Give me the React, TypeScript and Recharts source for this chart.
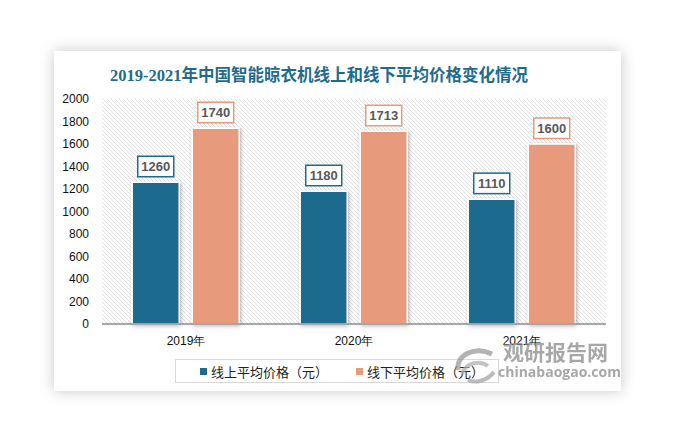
import { Bar, BarChart, CartesianGrid, LabelList, XAxis, YAxis } from 'recharts'

const years = ['2019年', '2020年', '2021年']
const onlinePrice = [1260, 1180, 1110]
const offlinePrice = [1740, 1713, 1600]
const yTicks = [0, 200, 400, 600, 800, 1000, 1200, 1400, 1600, 1800, 2000]

const seriesNames = ['线上平均价格（元）', '线下平均价格（元）']
const BLUE = '#1d6b8e'
const ORANGE = '#e89b7b'

const data = years.map((year, i) => ({
  year,
  online: onlinePrice[i],
  offline: offlinePrice[i],
}))

const makeLabel = (color: string) => (props: any) => {
  const { x, y, width, value } = props
  const cx = x + width / 2
  return (
    <g>
      <rect x={cx - 18} y={y - 26} width={36} height={20.5} fill='#fff' stroke={color} strokeWidth={1.5} />
      <text
        x={cx}
        y={y - 15.5}
        textAnchor='middle'
        dominantBaseline='central'
        fill='#595959'
        fontSize={13}
        fontWeight='bold'
        fontFamily='Liberation Sans, Arial, sans-serif'
      >
        {value}
      </text>
    </g>
  )
}

// legend drawn as a plain box below the plot
const LegendBox = () => (
  <div
    style={{
      position: 'absolute',
      left: 175,
      top: 359,
      width: 322,
      height: 22,
      border: '1px solid #d9d9d9',
      display: 'flex',
      alignItems: 'center',
      fontSize: 13,
      fontFamily: '"Noto Sans CJK SC", sans-serif',
      color: '#222',
    }}
  >
    <span style={{ width: 7, height: 7, background: BLUE, marginLeft: 24, marginRight: 4 }} />
    <span>{seriesNames[0]}</span>
    <span style={{ width: 7, height: 7, background: ORANGE, marginLeft: 28, marginRight: 4 }} />
    <span>{seriesNames[1]}</span>
  </div>
)

const App = () => {
  return (
    <div style={{ position: 'absolute', left: 0, top: 0, width: 678, height: 442, background: '#fff' }}>
      <div
        style={{
          position: 'absolute',
          left: 54,
          top: 51,
          width: 567,
          height: 340,
          background: '#fff',
          boxShadow: '0 0 14px rgba(0,0,0,0.22)',
        }}
      />
      <div
        style={{
          position: 'absolute',
          left: 110,
          top: 62,
          fontSize: 16.5,
          fontWeight: 'bold',
          color: '#1f6b8c',
          fontFamily: '"Liberation Serif", "Noto Sans CJK SC", serif',
          whiteSpace: 'nowrap',
        }}
      >
        2019-2021年中国智能晾衣机线上和线下平均价格变化情况
      </div>
      <div style={{ position: 'absolute', left: 0, top: 0 }}>
        <BarChart
          width={678}
          height={442}
          data={data}
          margin={{ top: 99, right: 72, bottom: 88, left: 52 }}
          barCategoryGap='18%'
          barGap={13}
        >
          <defs>
            <pattern id='hatch' width={4} height={4} patternUnits='userSpaceOnUse'>
              <rect width={4} height={4} fill='#fff' />
              <path d='M-1,-1 L5,5 M-1,3 L1,5 M3,-1 L5,1' stroke='#dedede' strokeWidth={0.9} />
            </pattern>
            <filter id='barShadow' x='-20%' y='-10%' width='140%' height='120%'>
              <feDropShadow dx={1} dy={1} stdDeviation={2} floodColor='#000' floodOpacity={0.3} />
            </filter>
          </defs>
          <CartesianGrid horizontal={false} vertical={false} fill='url(#hatch)' />
          <XAxis
            dataKey='year'
            tickLine={false}
            axisLine={{ stroke: '#8c8c8c', strokeWidth: 1.5 }}
            tick={{ fill: '#111', fontSize: 12, fontFamily: 'Liberation Sans, sans-serif' }}
            tickMargin={6}
          />
          <YAxis
            width={50}
            domain={[0, 2000]}
            ticks={yTicks}
            interval={0}
            tickLine={false}
            axisLine={false}
            tick={{ fill: '#111', fontSize: 12, fontFamily: 'Liberation Sans, sans-serif' }}
            tickMargin={7}
          />
          <Bar
            dataKey='online'
            name={seriesNames[0]}
            fill={BLUE}
            stroke='#fff'
            strokeWidth={1.5}
            filter='url(#barShadow)'
            isAnimationActive={false}
          >
            <LabelList dataKey='online' content={makeLabel(BLUE)} />
          </Bar>
          <Bar
            dataKey='offline'
            name={seriesNames[1]}
            fill={ORANGE}
            stroke='#fff'
            strokeWidth={1.5}
            filter='url(#barShadow)'
            isAnimationActive={false}
          >
            <LabelList dataKey='offline' content={makeLabel(ORANGE)} />
          </Bar>
        </BarChart>
      </div>
      <LegendBox />
      <div style={{ position: 'absolute', left: 450, top: 336, opacity: 0.75, pointerEvents: 'none' }}>
        <svg width={52} height={48} style={{ position: 'absolute', left: 0, top: 4 }}>
          <path d='M8,30 C6,14 26,6 42,14' stroke='#9a9a9a' strokeWidth={5} fill='none' />
          <path d='M12,34 C16,22 30,20 38,26' stroke='#b0b0b0' strokeWidth={4} fill='none' />
          <path d='M18,40 C26,44 38,40 44,32' stroke='#a5a5a5' strokeWidth={4} fill='none' />
        </svg>
        <div
          style={{
            position: 'absolute',
            left: 53,
            top: 3,
            fontSize: 21,
            fontWeight: 'bold',
            color: '#8a8a8a',
            fontFamily: '"Noto Sans CJK SC", sans-serif',
            whiteSpace: 'nowrap',
            lineHeight: '24px',
          }}
        >
          观研报告网
        </div>
        <div
          style={{
            position: 'absolute',
            left: 48,
            top: 28,
            fontSize: 14,
            fontWeight: 'bold',
            color: '#8a8a8a',
            fontFamily: '"Open Sans", sans-serif',
            whiteSpace: 'nowrap',
            lineHeight: '16px',
          }}
        >
          chinabaogao.com
        </div>
      </div>
    </div>
  )
}

export default App
